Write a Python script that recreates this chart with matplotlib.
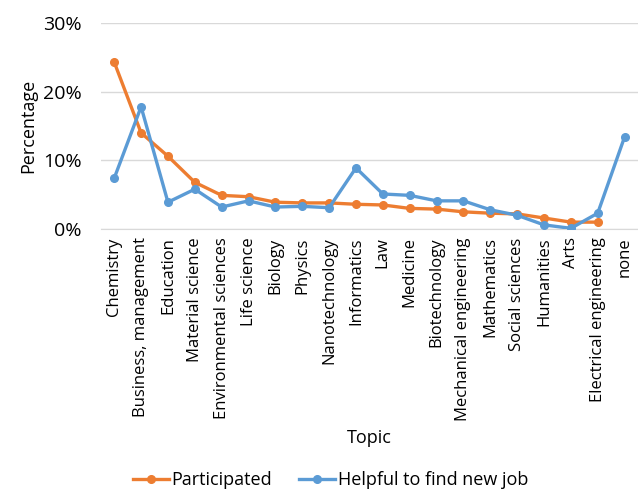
import numpy as np
import matplotlib.pyplot as plt

plt.rcParams['font.family'] = ['Open Sans', 'DejaVu Sans']

topics = ['Chemistry', 'Business, management', 'Education', 'Material science',
          'Environmental sciences', 'Life science', 'Biology', 'Physics',
          'Nanotechnology', 'Informatics', 'Law', 'Medicine', 'Biotechnology',
          'Mechanical engineering', 'Mathematics', 'Social sciences',
          'Humanities', 'Arts', 'Electrical engineering', 'none']
participated = [24.3, 14.0, 10.6, 6.8, 4.9, 4.7, 3.9, 3.8, 3.8, 3.6, 3.5,
                3.0, 2.9, 2.5, 2.3, 2.2, 1.6, 1.0, 1.0, np.nan]
helpful = [7.4, 17.8, 3.9, 5.8, 3.2, 4.1, 3.2, 3.3, 3.1, 8.9, 5.1, 4.9,
           4.1, 4.1, 2.8, 2.0, 0.6, 0.1, 2.3, 13.4]

fig = plt.figure(figsize=(6.38, 4.93), dpi=100)
ax = fig.add_axes([0.158, 0.5355, 0.842, 0.4178])
x = np.arange(len(topics))

ax.plot(x, participated, color='#ED7D31', lw=2.4, marker='o', ms=5.5,
        label='Participated', zorder=3)
ax.plot(x, helpful, color='#5B9BD5', lw=2.4, marker='o', ms=5.5,
        label='Helpful to find new job', zorder=4)

ax.set_xlim(-0.5, len(topics) - 0.5)
ax.set_ylim(0, 30)
ax.set_yticks([0, 10, 20, 30])
ax.set_yticklabels(['0%', '10%', '20%', '30%'], fontsize=14)
ax.set_xticks(x)
ax.set_xticklabels(topics, rotation=90, fontsize=12)
ax.tick_params(axis='x', length=0, pad=6)
ax.tick_params(axis='y', length=0, pad=14)
ax.grid(axis='y', color='#D9D9D9', lw=1)
ax.set_axisbelow(True)
for s in ['top', 'right', 'left']:
    ax.spines[s].set_visible(False)
ax.spines['bottom'].set_color('#D9D9D9')

ax.set_ylabel('Percentage', fontsize=13, labelpad=4)
ax.set_xlabel('Topic', fontsize=13, labelpad=6)

fig.legend(loc='lower center', bbox_to_anchor=(0.518, -0.025), ncol=2,
           frameon=False, fontsize=13, handlelength=2.0, columnspacing=1.5,
           handletextpad=0.15)

fig.savefig('out.png', dpi=100)
